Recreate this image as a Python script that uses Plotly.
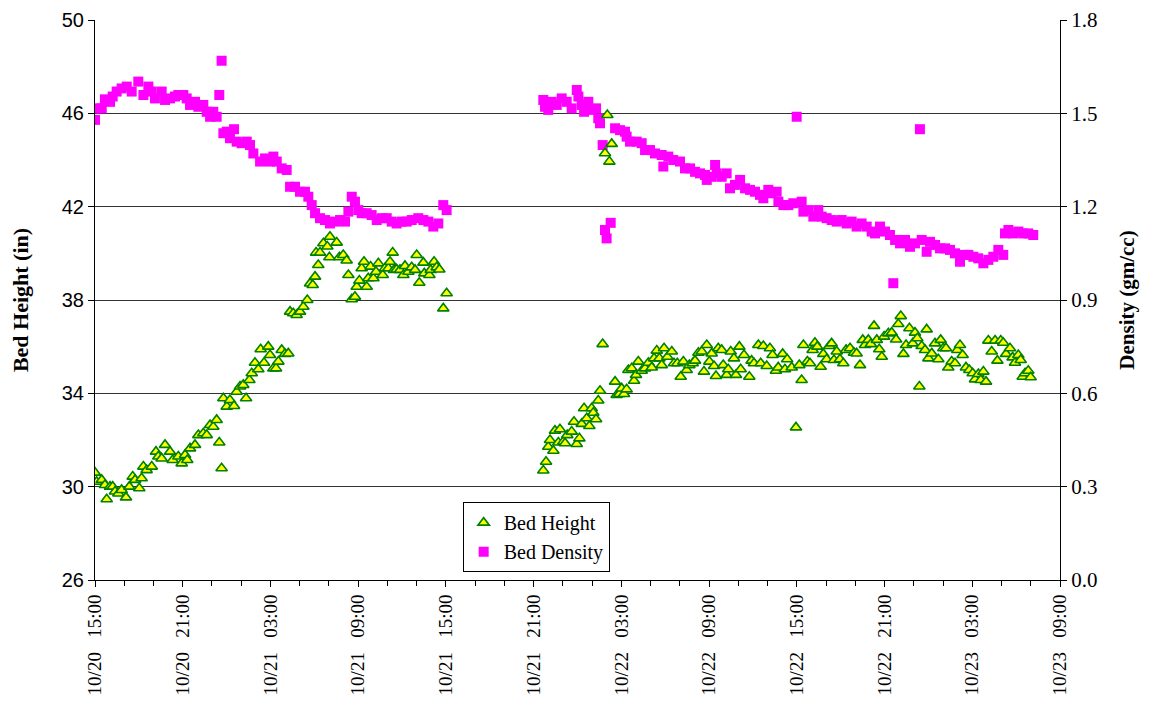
import pandas as pd
import plotly.graph_objects as go

START = pd.Timestamp("2003-10-20 15:00")

# Bed Height (in): elapsed hours since 10/20 15:00, value
height_hours = [
    0.00, 0.11, 0.46, 0.68, 0.80, 1.03, 1.21, 1.37, 1.60, 1.82, 2.12, 2.35, 2.58, 2.74, 3.03, 3.19,
    3.31, 3.53, 3.88, 4.17, 4.33, 4.56, 4.79, 5.13, 5.31, 5.70, 5.93, 6.16, 6.31, 6.50, 6.84, 7.07,
    7.41, 7.64, 7.87, 8.09, 8.32, 8.50, 8.66, 8.78, 9.01, 9.23, 9.51, 9.69, 9.92, 10.14, 10.33, 10.56,
    10.72, 10.94, 11.17, 11.33, 11.56, 11.85, 11.97, 12.20, 12.38, 12.54, 12.77, 12.99, 13.22, 13.34,
    13.56, 13.79, 14.02, 14.25, 14.52, 14.71, 14.89, 15.05, 15.12, 15.27, 15.39, 15.62, 15.89, 16.03,
    16.07, 16.53, 16.71, 16.98, 17.21, 17.33, 17.56, 17.78, 17.90, 18.08, 18.24, 18.40, 18.58, 18.69,
    18.85, 19.04, 19.22, 19.38, 19.68, 19.83, 20.06, 20.18, 20.36, 20.45, 20.63, 20.86, 21.09, 21.20,
    21.43, 21.66, 21.89, 22.00, 22.18, 22.46, 22.52, 22.87, 22.96, 23.19, 23.37, 23.55, 23.82, 24.05,
    # second run
    30.66, 30.85, 31.00, 31.12, 31.35, 31.46, 31.80, 31.69, 32.03, 32.15, 32.30, 32.60, 32.76, 32.95,
    33.13, 33.29, 33.45, 33.63, 33.81, 33.97, 34.08, 34.27, 34.42, 34.54, 34.72, 34.88, 35.04, 35.18,
    35.34, 35.57, 35.68, 35.86, 36.02, 36.18, 36.36, 36.48, 36.71, 36.87, 37.00, 37.16, 37.39, 37.62,
    37.85, 38.08, 38.24, 38.42, 38.60, 38.76, 38.92, 39.15, 39.45, 39.60, 39.83, 40.06, 40.24, 40.47,
    40.65, 40.88, 41.04, 41.27, 41.50, 41.65, 41.84, 42.02, 42.18, 42.34, 42.47, 42.63, 42.86, 42.97,
    43.20, 43.31, 43.48, 43.70, 43.84, 44.07, 44.16, 44.39, 44.75, 44.91, 45.07, 45.37, 45.53, 45.71,
    45.94, 46.16, 46.34, 46.57, 46.73, 47.03, 47.19, 47.34, 47.65, 47.94, 48.17, 48.33, 48.45, 48.72,
    48.90, 49.08, 49.24, 49.40, 49.63, 49.81, 50.04, 50.22, 50.38, 50.54, 50.73, 50.95, 51.18, 51.37,
    51.64, 51.91, 52.09, 52.32, 52.51, 52.66, 52.89, 53.06, 53.28, 53.47, 53.64, 53.81, 53.97, 54.26,
    54.49, 54.79, 54.94, 55.11, 55.29, 55.47, 55.70, 55.93, 56.08, 56.24, 56.38, 56.54, 56.77, 56.88,
    57.00, 57.23, 57.45, 57.68, 57.84, 58.02, 58.20, 58.36, 58.59, 58.82, 58.98, 59.16, 59.34, 59.57,
    59.80, 60.03, 60.19, 60.42, 60.58, 60.76, 60.94, 61.10, 61.33, 61.56, 61.72, 61.95, 62.12, 62.31,
    62.58, 62.76, 62.92, 63.15, 63.31, 63.45, 63.61, 63.83, 63.99,
]
height_values = [
    30.60, 30.21, 30.29, 30.07, 29.46, 30.00, 30.00, 29.79, 29.71, 29.86, 29.54, 30.00, 30.43, 30.29, 29.93, 30.36,
    30.86, 30.71, 30.86, 31.50, 31.29, 31.21, 31.79, 31.50, 31.14, 31.29, 31.00, 31.36, 31.14, 31.64, 31.79, 32.21,
    32.29, 32.21, 32.64, 32.57, 32.86, 31.89, 30.79, 33.79, 33.43, 33.71, 33.46, 34.07, 34.29, 34.36, 33.79, 34.57,
    34.86, 35.31, 35.03, 35.89, 35.31, 36.00, 35.64, 35.07, 35.07, 35.36, 35.86, 35.69, 35.71, 37.50,
    37.43, 37.36, 37.50, 37.71, 38.00, 38.71, 38.64, 39.00, 40.03, 39.50, 40.03, 40.43, 40.29, 39.83,
    40.71, 40.46, 39.83, 39.93, 39.69, 39.07, 38.03, 38.14, 38.57, 38.83, 39.36, 39.64, 38.57, 38.93,
    39.43, 38.93, 39.21, 39.57, 39.07, 39.36, 39.36, 39.64, 40.03, 39.29, 39.31, 39.29, 39.07, 39.46,
    39.21, 39.40, 39.29, 39.93, 38.74, 39.60, 39.14, 39.07, 39.29, 39.64, 39.40, 39.31, 37.64, 38.29,
    # second run
    30.69, 31.07, 31.71, 32.00, 31.54, 32.40, 32.46, 31.89, 31.93, 31.86, 32.21, 32.36, 32.78, 31.83,
    32.07, 32.69, 33.36, 32.93, 32.60, 33.36, 33.17, 32.89, 33.69, 34.11, 36.11, 44.29, 45.93, 43.93,
    44.69, 34.50, 33.93, 33.97, 34.21, 33.97, 34.17, 35.00, 35.07, 34.54, 34.79, 35.36, 34.97, 35.07,
    35.31, 35.11, 35.50, 35.83, 35.50, 35.21, 35.93, 35.57, 35.79, 35.29, 35.29, 34.71, 35.36, 35.00,
    35.21, 35.29, 35.40, 35.74, 35.79, 34.93, 36.07, 35.36, 35.71, 35.17, 34.74, 35.93, 35.86, 35.21,
    34.79, 35.03, 35.79, 35.50, 34.79, 36.00, 35.03, 35.64, 34.71, 35.40, 35.29, 36.07, 35.29, 36.03,
    35.17, 35.93, 35.64, 34.97, 35.11, 35.69, 35.03, 35.46, 35.11, 32.54, 35.21, 34.57, 36.07, 35.36,
    35.29, 35.86, 36.17, 36.00, 35.14, 35.69, 35.46, 36.03, 36.14, 35.43, 35.79, 35.46, 35.29, 35.86,
    35.93, 35.74, 35.71, 35.21, 36.29, 36.07, 36.29, 36.11, 36.89, 36.29, 35.89, 35.57, 36.43, 36.57,
    36.60, 36.31, 36.97, 37.31, 35.69, 36.07, 36.79, 36.14, 36.60, 36.36, 34.29, 36.03, 35.86, 36.74,
    35.50, 35.71, 36.14, 35.46, 36.29, 35.93, 35.93, 35.11, 35.36, 35.29, 35.86, 36.07, 35.64, 35.11,
    35.00, 34.86, 34.60, 34.83, 34.57, 34.93, 34.50, 36.26, 35.79, 36.26, 35.40, 36.26, 36.17, 35.69,
    35.93, 35.54, 35.31, 35.64, 35.43, 34.71, 34.86, 34.97, 34.69,
]

# Bed Density (gm/cc): elapsed hours since 10/20 15:00, value
density_hours = [
    0.00, 0.11, 0.46, 0.68, 1.03, 1.21, 1.48, 1.82, 2.17, 2.51, 2.96, 3.31, 3.65, 3.88, 4.10, 4.56,
    4.79, 5.13, 5.47, 5.70, 6.04, 6.27, 6.50, 6.84, 7.07, 7.41, 7.64, 7.87, 8.09, 8.32, 8.50, 8.66,
    8.78, 9.01, 9.51, 9.23, 9.69, 10.03, 10.38, 10.60, 10.83, 11.29, 11.63, 11.97, 12.20, 12.43,
    12.77, 13.11, 13.34, 13.68, 14.02, 14.36, 14.59, 14.82, 15.05, 15.39, 15.73, 16.07, 16.41, 16.76,
    17.10, 17.33, 17.56, 17.78, 18.01, 18.24, 18.58, 18.92, 19.27, 19.61, 19.95, 20.29, 20.63, 20.98,
    21.32, 21.66, 22.11, 22.46, 22.80, 23.14, 23.48, 23.82, 24.05,
    # second run
    30.66, 30.78, 31.00, 31.24, 31.58, 31.92, 32.26, 32.60, 32.95, 33.06, 33.29, 33.45, 33.74, 33.86,
    34.27, 34.42, 34.54, 34.72, 34.88, 34.99, 35.27, 35.57, 35.91, 36.25, 36.36, 36.59, 37.05, 37.39,
    37.62, 37.96, 38.30, 38.76, 38.87, 39.21, 39.55, 40.01, 40.35, 40.70, 41.04, 41.38, 41.72, 41.84,
    42.18, 42.41, 42.52, 42.86, 43.20, 43.43, 43.77, 44.12, 44.46, 44.80, 45.14, 45.48, 45.71, 46.05,
    46.28, 46.62, 46.74, 47.08, 47.42, 47.76, 47.99, 48.33, 48.45, 48.79, 49.13, 49.47, 49.70, 50.04,
    50.38, 50.73, 51.07, 51.41, 51.75, 52.09, 52.43, 52.78, 53.12, 53.35, 53.69, 54.03, 54.37, 54.60,
    54.72, 55.06, 55.40, 55.74, 56.08, 56.42, 56.54, 56.88, 57.11, 57.45, 57.79, 58.14, 58.48, 58.82,
    59.16, 59.39, 59.73, 60.07, 60.41, 60.76, 61.10, 61.44, 61.78, 62.12, 62.24, 62.47, 62.81, 63.15,
    63.49, 63.83, 64.17,
]
density_values = [
    1.479, 1.516, 1.516, 1.545, 1.537, 1.554, 1.570, 1.580, 1.586, 1.570, 1.602, 1.559, 1.586, 1.570, 1.548, 1.570,
    1.543, 1.548, 1.554, 1.559, 1.559, 1.548, 1.527, 1.537, 1.521, 1.527, 1.505, 1.489, 1.505, 1.489, 1.559, 1.669,
    1.436, 1.441, 1.449, 1.420, 1.409, 1.404, 1.409, 1.398, 1.371, 1.345, 1.355, 1.345, 1.361, 1.345,
    1.323, 1.318, 1.264, 1.264, 1.248, 1.248, 1.232, 1.205, 1.179, 1.163, 1.157, 1.146, 1.152, 1.157,
    1.152, 1.184, 1.232, 1.216, 1.189, 1.179, 1.179, 1.173, 1.157, 1.163, 1.163, 1.152, 1.146, 1.152,
    1.152, 1.157, 1.163, 1.157, 1.152, 1.136, 1.146, 1.205, 1.189,
    # second run
    1.543, 1.521, 1.511, 1.537, 1.527, 1.548, 1.537, 1.516, 1.575, 1.554, 1.527, 1.505, 1.537, 1.511,
    1.516, 1.484, 1.468, 1.398, 1.125, 1.098, 1.148, 1.452, 1.446, 1.441, 1.425, 1.409, 1.409, 1.404,
    1.382, 1.382, 1.371, 1.366, 1.329, 1.361, 1.350, 1.345, 1.323, 1.323, 1.312, 1.307, 1.302, 1.286,
    1.296, 1.334, 1.307, 1.296, 1.307, 1.259, 1.270, 1.286, 1.259, 1.254, 1.248, 1.238, 1.227, 1.254,
    1.243, 1.248, 1.216, 1.205, 1.205, 1.211, 1.489, 1.216, 1.184, 1.189, 1.168, 1.189, 1.168, 1.163,
    1.157, 1.152, 1.157, 1.146, 1.152, 1.136, 1.146, 1.136, 1.120, 1.114, 1.136, 1.120, 1.109, 0.954,
    1.093, 1.082, 1.093, 1.071, 1.082, 1.449, 1.093, 1.055, 1.087, 1.077, 1.066, 1.066, 1.061, 1.050,
    1.023, 1.045, 1.045, 1.039, 1.034, 1.018, 1.029, 1.039, 1.061, 1.045, 1.114, 1.125, 1.114, 1.120,
    1.114, 1.114, 1.109,
]

height_time = [START + pd.Timedelta(hours=h) for h in height_hours]
density_time = [START + pd.Timedelta(hours=h) for h in density_hours]

height_ticks = [26, 30, 34, 38, 42, 46, 50]
density_ticks = [0.0, 0.3, 0.6, 0.9, 1.2, 1.5, 1.8]
x_start = START
x_end = START + pd.Timedelta(hours=66)

fig = go.Figure()
fig.add_trace(go.Scatter(
    x=height_time, y=height_values, mode="markers", name="Bed Height", yaxis="y2",
    marker=dict(symbol="triangle-up", size=10, color="#FFFF00",
                line=dict(color="#008000", width=1.6)),
))
fig.add_trace(go.Scatter(
    x=density_time, y=density_values, mode="markers", name="Bed Density", yaxis="y",
    marker=dict(symbol="square", size=10, color="#FF00FF", line=dict(width=0)),
))

serif = "Liberation Serif"

fig.update_layout(
    width=1143, height=705,
    margin=dict(l=87, r=91, t=12, b=133, autoexpand=False),
    paper_bgcolor="white", plot_bgcolor="white",
    showlegend=True,
    legend=dict(
        x=0.381, y=0.139, xanchor="left", yanchor="top",
        bordercolor="black", borderwidth=1, bgcolor="white",
        font=dict(family=serif, size=20, color="black"),
        itemwidth=30, tracegroupgap=0,
    ),
    xaxis=dict(
        type="date", range=[x_start, x_end],
        tick0=x_start, dtick=6 * 3600 * 1000, tickformat="%m/%d\u00a0\u00a0\u00a0%H:%M",
        tickangle=-90, tickfont=dict(family=serif, size=19, color="black"),
        ticks="outside", ticklen=6, tickcolor="black",
        minor=dict(dtick=2 * 3600 * 1000, tick0=x_start, ticks="outside", ticklen=5, tickcolor="black"),
        showline=True, linecolor="black", linewidth=1, showgrid=False, zeroline=False,
        automargin=False,
    ),
    yaxis=dict(
        side="right", range=[0, 1.8], tickvals=density_ticks, tickformat=".1f",
        tickfont=dict(family=serif, size=21, color="black"),
        ticks="outside", ticklen=6, tickcolor="black",
        showline=True, linecolor="black", linewidth=1,
        showgrid=True, gridcolor="#333333", gridwidth=1, zeroline=False,
        title=dict(text="<b>Density (gm/cc)</b>", font=dict(family=serif, size=21, color="black"),
                   standoff=22),
        automargin=False,
    ),
    yaxis2=dict(
        side="left", overlaying="y", range=[26, 50], tickvals=height_ticks,
        tickfont=dict(family="Liberation Sans", size=20, color="black"),
        ticks="outside", ticklen=6, tickcolor="black",
        showline=True, linecolor="black", linewidth=1,
        showgrid=False, zeroline=False,
        title=dict(text="<b>Bed Height (in)</b>", font=dict(family=serif, size=22, color="black"),
                   standoff=30),
        automargin=False,
    ),
)

fig.write_html("out.html")
